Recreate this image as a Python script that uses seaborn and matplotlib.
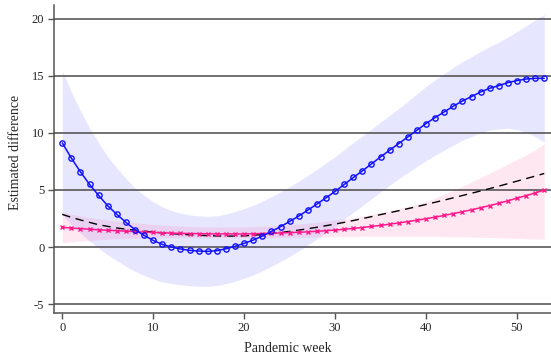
import matplotlib
matplotlib.use("Agg")
import matplotlib.pyplot as plt
import seaborn as sns

# pandemic weeks 0..53
weeks = list(range(0, 54))

# blue series (hollow circles) and its confidence band
blue_est = [9.12, 7.78, 6.58, 5.48, 4.52, 3.61, 2.86, 2.16, 1.52, 1.02,
            0.58, 0.23, 0.00, -0.17, -0.29, -0.35, -0.38, -0.32, -0.15, 0.06,
            0.32, 0.61, 0.96, 1.37, 1.78, 2.24, 2.71, 3.23, 3.76, 4.31,
            4.87, 5.48, 6.09, 6.67, 7.28, 7.89, 8.48, 9.06, 9.64, 10.23,
            10.81, 11.34, 11.83, 12.33, 12.79, 13.17, 13.58, 13.90, 14.13, 14.40,
            14.57, 14.71, 14.77, 14.77]
blue_lo = [2.82, 1.98, 1.23, 0.53, -0.08, -0.69, -1.19, -1.69, -2.13, -2.48,
           -2.80, -3.05, -3.20, -3.31, -3.39, -3.43, -3.44, -3.37, -3.20, -2.99,
           -2.73, -2.44, -2.09, -1.68, -1.27, -0.81, -0.34, 0.18, 0.71, 1.26,
           1.82, 2.43, 3.04, 3.62, 4.23, 4.84, 5.43, 5.98, 6.52, 7.05,
           7.56, 8.04, 8.48, 8.93, 9.34, 9.67, 10.03, 10.25, 10.33, 10.40,
           10.27, 10.06, 9.67, 9.17]
blue_hi = [15.42, 13.58, 11.93, 10.43, 9.12, 7.91, 6.91, 6.01, 5.17, 4.52,
           3.96, 3.51, 3.20, 2.97, 2.81, 2.73, 2.68, 2.73, 2.90, 3.11,
           3.37, 3.66, 4.01, 4.42, 4.83, 5.29, 5.76, 6.28, 6.81, 7.36,
           7.92, 8.53, 9.14, 9.72, 10.33, 10.94, 11.53, 12.14, 12.76, 13.41,
           14.06, 14.64, 15.18, 15.73, 16.24, 16.67, 17.13, 17.55, 17.93, 18.40,
           18.87, 19.36, 19.87, 20.37]

# pink series (x markers) and its confidence band
pink_est = [1.72, 1.66, 1.61, 1.56, 1.51, 1.47, 1.43, 1.39, 1.35, 1.31,
            1.28, 1.25, 1.22, 1.20, 1.18, 1.17, 1.16, 1.15, 1.15, 1.15,
            1.14, 1.16, 1.18, 1.20, 1.23, 1.26, 1.29, 1.33, 1.38, 1.43,
            1.49, 1.56, 1.63, 1.71, 1.80, 1.90, 2.00, 2.11, 2.23, 2.35,
            2.48, 2.62, 2.77, 2.93, 3.09, 3.26, 3.44, 3.63, 3.83, 4.05,
            4.28, 4.50, 4.74, 4.98]
pink_lo = [0.38, 0.45, 0.52, 0.58, 0.64, 0.69, 0.73, 0.76, 0.78, 0.80,
           0.81, 0.82, 0.82, 0.82, 0.82, 0.82, 0.82, 0.82, 0.82, 0.82,
           0.82, 0.82, 0.83, 0.83, 0.84, 0.85, 0.86, 0.87, 0.88, 0.89,
           0.90, 0.91, 0.92, 0.93, 0.94, 0.95, 0.95, 0.95, 0.95, 0.95,
           0.95, 0.94, 0.93, 0.91, 0.89, 0.87, 0.85, 0.83, 0.81, 0.79,
           0.76, 0.73, 0.70, 0.67]
pink_hi = [3.05, 2.88, 2.72, 2.58, 2.46, 2.36, 2.27, 2.19, 2.12, 2.05,
           1.99, 1.93, 1.88, 1.84, 1.80, 1.78, 1.76, 1.75, 1.75, 1.76,
           1.77, 1.79, 1.82, 1.86, 1.90, 1.95, 2.01, 2.08, 2.16, 2.25,
           2.35, 2.46, 2.58, 2.71, 2.85, 3.00, 3.17, 3.35, 3.55, 3.77,
           4.00, 4.30, 4.62, 4.96, 5.32, 5.70, 6.08, 6.47, 6.87, 7.27,
           7.67, 8.07, 8.51, 9.06]

# dashed black reference curve
dash_est = [2.86, 2.60, 2.37, 2.16, 1.95, 1.81, 1.67, 1.56, 1.47, 1.39,
            1.31, 1.24, 1.18, 1.12, 1.07, 1.03, 1.00, 0.97, 0.96, 0.96,
            0.98, 1.03, 1.10, 1.18, 1.27, 1.37, 1.48, 1.60, 1.73, 1.87,
            2.01, 2.16, 2.32, 2.49, 2.66, 2.84, 3.01, 3.18, 3.36, 3.54,
            3.73, 3.92, 4.11, 4.31, 4.51, 4.71, 4.91, 5.12, 5.33, 5.55,
            5.77, 5.99, 6.21, 6.44]

y_ticks = [-5, 0, 5, 10, 15, 20]
x_ticks = [0, 10, 20, 30, 40, 50]

blue = "#1010FF"
pink = "#FF1A8C"
sns.set_theme(style="white")
plt.rcParams['font.family'] = ['Liberation Serif', 'DejaVu Serif']
plt.rcParams['axes.unicode_minus'] = False

fig = plt.figure(figsize=(5.51, 3.56), dpi=100)
ax = fig.add_axes([0.098, 0.1216, 0.902, 0.864])

# confidence bands
ax.fill_between(weeks, blue_lo, blue_hi, color="#E6E6FF", lw=0, zorder=1)
ax.fill_between(weeks, pink_lo, pink_hi, color="#FF3C96", alpha=0.12, lw=0, zorder=2)

# horizontal grid lines
for yv in y_ticks:
    ax.axhline(yv, color="#4a4a4a", lw=1.1, zorder=3)

sns.lineplot(x=weeks, y=dash_est, ax=ax, color="black", lw=1.0,
             linestyle=(0, (6, 4)), zorder=4)
sns.lineplot(x=weeks, y=pink_est, ax=ax, color=pink, lw=1.1, marker="x",
             markersize=2.8, markeredgewidth=1.0, markeredgecolor=pink, zorder=5)
sns.lineplot(x=weeks, y=blue_est, ax=ax, color=blue, lw=1.1, marker="o",
             markersize=3.8, markerfacecolor="none", markeredgewidth=1.0,
             markeredgecolor=blue, zorder=6)

ax.set_xlim(-0.91, 53.74)
ax.set_ylim(-5.75, 21.18)
ax.set_xticks(x_ticks)
ax.set_yticks(y_ticks)
ax.tick_params(axis="both", which="major", direction="out", length=4,
               width=1, color="#555555", labelsize=9, pad=3, left=True, bottom=True)
ax.grid(False)
for side in ["top", "right"]:
    ax.spines[side].set_visible(False)
for side in ["left", "bottom"]:
    ax.spines[side].set_color("#555555")
    ax.spines[side].set_linewidth(1.1)

ax.set_xlabel("Pandemic week", fontsize=10)
ax.set_ylabel("Estimated difference", fontsize=10)
ax.xaxis.set_label_coords(0.471, -0.095)
ax.yaxis.set_label_coords(-0.064, 0.52)

fig.savefig("out.png", dpi=100)
